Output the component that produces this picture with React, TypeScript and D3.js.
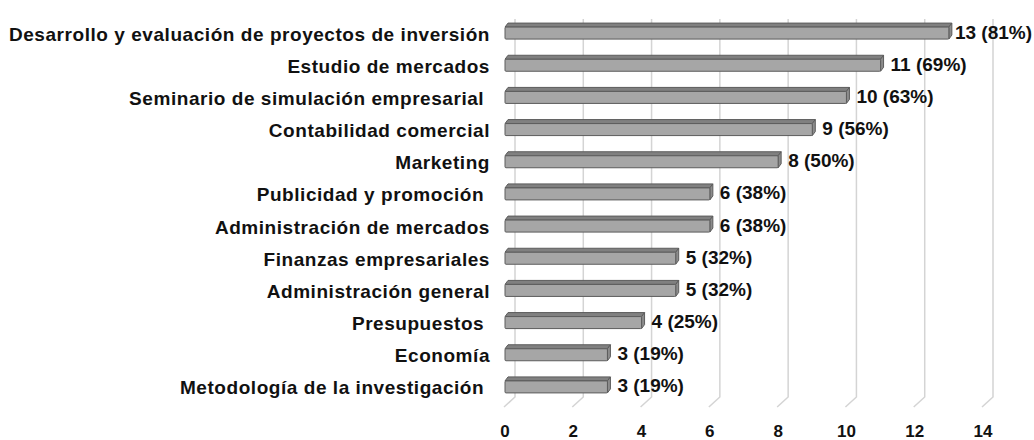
import React, { useRef, useEffect } from 'react'
import * as d3 from 'd3'

const categories = [
  'Desarrollo y evaluación de proyectos de inversión',
  'Estudio de mercados',
  'Seminario de simulación empresarial ',
  'Contabilidad comercial',
  'Marketing',
  'Publicidad y promoción ',
  'Administración de mercados',
  'Finanzas empresariales',
  'Administración general',
  'Presupuestos ',
  'Economía',
  'Metodología de la investigación ',
]
const counts = [13, 11, 10, 9, 8, 6, 6, 5, 5, 4, 3, 3]
const percents = [81, 69, 63, 56, 50, 38, 38, 32, 32, 25, 19, 19]
const xTicks = [0, 2, 4, 6, 8, 10, 12, 14]

const W = 1034
const H = 440
const font = 'Liberation Sans, Arial, sans-serif'

const App: React.FC = () => {
  const svgRef = useRef<SVGSVGElement>(null)

  useEffect(() => {
    const svg = d3.select(svgRef.current!)
    svg.selectAll('*').remove()

    const x = d3.scaleLinear().domain([0, 14]).range([505, 983])
    const y = d3.scaleBand<string>().domain(categories).range([17, 403])
    const depthX = 10 // floor perspective shift for the back wall
    const floorTop = 397
    const floorBottom = 407

    // gridlines on back wall + floor diagonal
    const grid = svg.append('g')
    xTicks.forEach((t) => {
      const xb = x(t) + depthX
      grid
        .append('polyline')
        .attr('points', `${xb},19 ${xb},${floorTop} ${x(t) - 1},${floorBottom}`)
        .attr('fill', 'none')
        .attr('stroke', '#d4d4d4')
        .attr('stroke-width', 1.5)
    })

    // tick labels
    svg
      .append('g')
      .selectAll('text')
      .data(xTicks)
      .join('text')
      .attr('x', (d) => x(d))
      .attr('y', 437)
      .attr('text-anchor', 'middle')
      .style('font-family', font)
      .style('font-weight', 'bold')
      .style('font-size', '17px')
      .attr('fill', '#111')
      .text((d) => d)

    // bars (3d-ish)
    const fh = 12
    const dx = 3
    const dy = 4
    const bars = svg.append('g')
    categories.forEach((cat, i) => {
      const c = y(cat)! + y.bandwidth() / 2
      const x0 = x(0)
      const x1 = x(counts[i])
      const top = c - fh / 2
      const bot = c + fh / 2
      const g = bars.append('g').attr('stroke', '#5c5c5c').attr('stroke-width', 1)
      g.append('polygon')
        .attr('points', `${x0},${top} ${x0 + dx},${top - dy} ${x1 + dx},${top - dy} ${x1},${top}`)
        .attr('fill', '#808080')
      g.append('polygon')
        .attr('points', `${x1},${top} ${x1 + dx},${top - dy} ${x1 + dx},${bot - dy} ${x1},${bot}`)
        .attr('fill', '#8c8c8c')
      g.append('rect')
        .attr('x', x0)
        .attr('y', top)
        .attr('width', x1 - x0)
        .attr('height', fh)
        .attr('rx', 1)
        .attr('fill', '#a6a6a6')

      // value label (kept inside the right edge)
      const lbl = svg
        .append('text')
        .attr('x', x1 + dx + 7)
        .attr('y', c - 1)
        .attr('dominant-baseline', 'central')
        .style('font-family', font)
        .style('font-weight', 'bold')
        .style('font-size', '19px')
        .attr('fill', '#111')
        .text(`${counts[i]} (${percents[i]}%)`)
      const len = (lbl.node() as SVGTextElement).getComputedTextLength()
      if (x1 + dx + 7 + len > W - 2) lbl.attr('x', W - 2 - len)

      // category label
      svg
        .append('text')
        .attr('x', 490)
        .attr('y', c + 1)
        .attr('text-anchor', 'end')
        .attr('dominant-baseline', 'central')
        .style('white-space', 'pre')
        .style('font-family', font)
        .style('font-weight', 'bold')
        .style('font-size', '19px')
        .style('letter-spacing', '0.55px')
        .attr('fill', '#111')
        .text(cat)
    })
  }, [])

  return (
    <svg
      ref={svgRef}
      width={W}
      height={H}
      viewBox={`0 0 ${W} ${H}`}
      style={{ position: 'absolute', left: 0, top: 0, background: '#fff' }}
    />
  )
}

export default App
